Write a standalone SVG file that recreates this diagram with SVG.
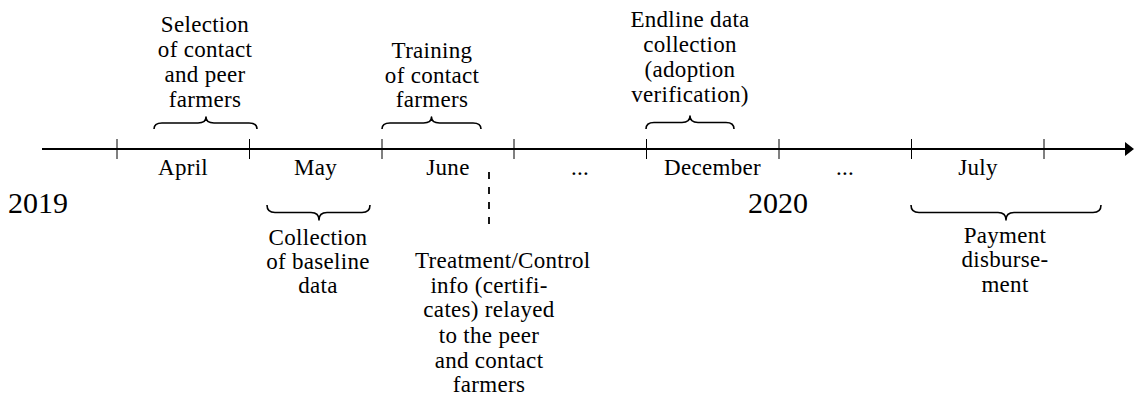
<svg xmlns="http://www.w3.org/2000/svg" width="1134" height="396" viewBox="0 0 1134 396">
<style>
.lbl{font-size:23px;letter-spacing:0.3px;text-anchor:middle}
.yr{font-size:30px}
.brace{fill:none;stroke:#000;stroke-width:1.6;stroke-linejoin:round}
.tick{stroke:#000;stroke-width:1}
</style>
<g font-family="'Liberation Serif', 'DejaVu Serif', serif" fill="#000">
<g id="connectors">
<line x1="42" y1="149" x2="1127" y2="149" stroke="#000" stroke-width="2"/>
<path d="M1125,142 L1134,149 L1125,156 z" fill="#000"/>
<line class="tick" x1="117" y1="139" x2="117" y2="159"/>
<line class="tick" x1="249.5" y1="139" x2="249.5" y2="159"/>
<line class="tick" x1="382" y1="139" x2="382" y2="159"/>
<line class="tick" x1="514" y1="139" x2="514" y2="159"/>
<line class="tick" x1="646.5" y1="139" x2="646.5" y2="159"/>
<line class="tick" x1="779" y1="139" x2="779" y2="159"/>
<line class="tick" x1="911.5" y1="139" x2="911.5" y2="159"/>
<line class="tick" x1="1044" y1="139" x2="1044" y2="159"/>
<line x1="489" y1="172" x2="489" y2="228" stroke="#000" stroke-width="1.8" stroke-dasharray="7 8"/>
</g>
<g id="months">
<text class="lbl" x="183" y="175">April</text>
<text class="lbl" x="315.5" y="175">May</text>
<text class="lbl" x="448" y="175">June</text>
<text class="lbl" x="580" y="175">...</text>
<text class="lbl" x="712.5" y="175">December</text>
<text class="lbl" x="845" y="175">...</text>
<text class="lbl" x="978" y="175">July</text>
</g>
<g id="years">
<text class="yr" x="8" y="213">2019</text>
<text class="yr" x="748" y="213">2020</text>
</g>
<g id="selection">
<path class="brace" d="M154,129 Q154,123 162,123 L198,123 Q206,123 206,117 Q206,123 214,123 L249,123 Q257,123 257,129"/>
<text class="lbl" x="205" y="32">Selection</text>
<text class="lbl" x="205" y="57">of contact</text>
<text class="lbl" x="205" y="82">and peer</text>
<text class="lbl" x="205" y="107">farmers</text>
</g>
<g id="training">
<path class="brace" d="M382,129 Q382,123 390,123 L423.5,123 Q431.5,123 431.5,117 Q431.5,123 439.5,123 L473,123 Q481,123 481,129"/>
<text class="lbl" x="432" y="58">Training</text>
<text class="lbl" x="432" y="83">of contact</text>
<text class="lbl" x="432" y="107">farmers</text>
</g>
<g id="endline">
<path class="brace" d="M646,129 Q646,122.5 654,122.5 L682,122.5 Q690,122.5 690,116 Q690,122.5 698,122.5 L726,122.5 Q734,122.5 734,129"/>
<text class="lbl" x="690" y="27">Endline data</text>
<text class="lbl" x="690" y="52">collection</text>
<text class="lbl" x="690" y="77">(adoption</text>
<text class="lbl" x="690" y="102">verification)</text>
</g>
<g id="baseline">
<path class="brace" d="M267,205 Q267,212.5 275,212.5 L311,212.5 Q319,212.5 319,220 Q319,212.5 327,212.5 L362,212.5 Q370,212.5 370,205"/>
<text class="lbl" x="318" y="245">Collection</text>
<text class="lbl" x="318" y="269">of baseline</text>
<text class="lbl" x="318" y="293">data</text>
</g>
<g id="treatment">
<text class="lbl" x="415" y="268" style="text-anchor:start">Treatment/Control</text>
<text class="lbl" x="489" y="293">info (certifi-</text>
<text class="lbl" x="489" y="317">cates) relayed</text>
<text class="lbl" x="489" y="343">to the peer</text>
<text class="lbl" x="489" y="368">and contact</text>
<text class="lbl" x="489" y="392">farmers</text>
</g>
<g id="payment">
<path class="brace" d="M911,205 Q911,212.5 919,212.5 L998,212.5 Q1006,212.5 1006,220 Q1006,212.5 1014,212.5 L1093,212.5 Q1101,212.5 1101,205"/>
<text class="lbl" x="1005" y="243">Payment</text>
<text class="lbl" x="1005" y="267">disburse-</text>
<text class="lbl" x="1005" y="292">ment</text>
</g>
</g>
</svg>
